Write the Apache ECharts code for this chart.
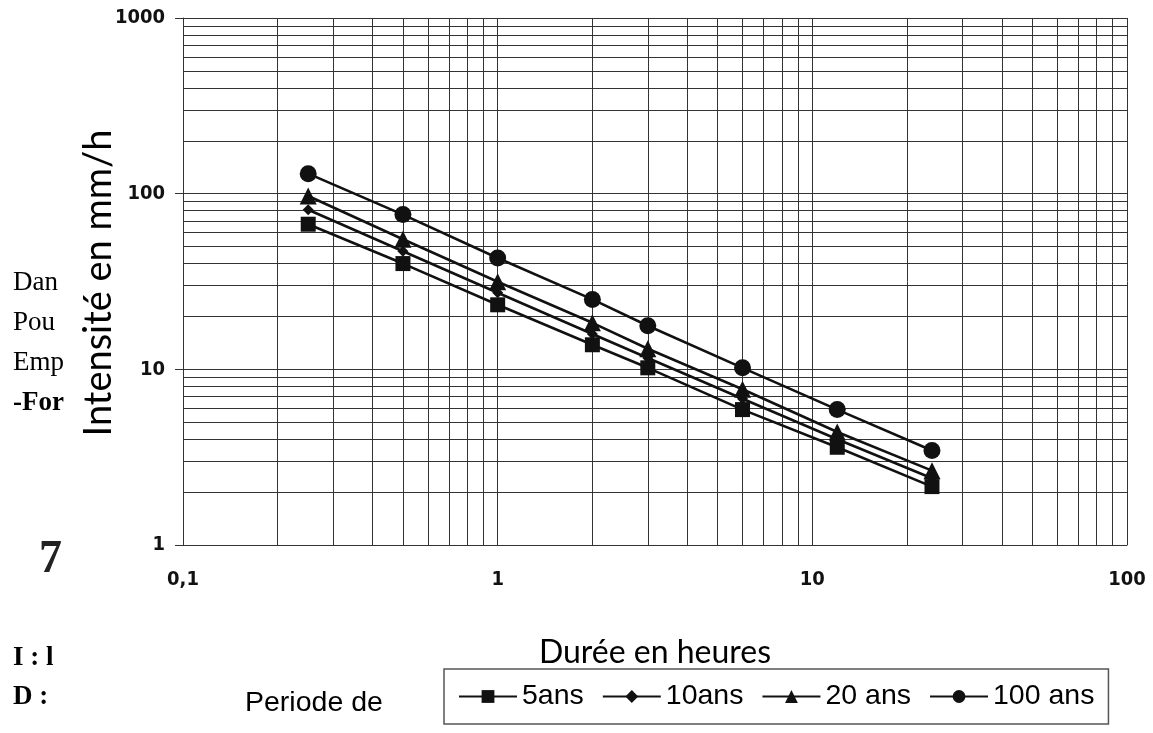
<!DOCTYPE html>
<html><head><meta charset="utf-8">
<script src="https://cdn.jsdelivr.net/npm/echarts@6/dist/echarts.min.js"></script>
<style>html,body{margin:0;padding:0;background:#fff}#c{width:1153px;height:733px}</style>
</head><body><div id="c"></div>
<script>
const durations = [0.25, 0.5, 1, 2, 3, 6, 12, 24];
const seriesNames = ['5ans', '10ans', '20 ans', '100 ans'];
const val5 = [67, 40, 23.3, 13.8, 10.2, 5.9, 3.6, 2.15];
const val10 = [81, 47, 27.3, 15.9, 11.6, 6.8, 4.0, 2.4];
const val20 = [97, 55, 31.5, 18.4, 13.1, 7.7, 4.4, 2.65];
const val100 = [130, 76, 43, 25, 17.7, 10.2, 5.9, 3.45];
const xGrid = [0.2,0.3,0.4,0.5,0.6,0.7,0.8,0.9,2,3,4,5,6,7,8,9,20,30,40,50,60,70,80,90];
const yGrid = [2,3,4,5,6,7,8,9,20,30,40,50,60,70,80,90,200,300,400,500,600,700,800,900];
const xTickLabels = {0.1:'0,1', 1:'1', 10:'10', 100:'100'};
const yTickLabels = {1:'1', 10:'10', 100:'100', 1000:'1000'};
const sideTexts = [['Dan',283,false],['Pou',323,false],['Emp',363,false],['-For',403,true],['I : l',658,true],['D :',697,true]];

const chart = echarts.init(document.getElementById('c'));
const symbols = ['rect','diamond','triangle','circle'];
const sizes = [15, 11, 17, 17];
const vals = [val5, val10, val20, val100];
const series = vals.map((v,i)=>({
  name: seriesNames[i], type:'line', data: durations.map((d,j)=>[d, v[j]]),
  symbol: symbols[i], symbolSize: sizes[i], showSymbol:true,
  lineStyle:{color:'#111', width:2.6}, itemStyle:{color:'#111'}, z: 5+i, silent:true
}));
series.push({
  type:'line', data:[], silent:true, z:1,
  markLine:{ silent:true, symbol:['none','none'], label:{show:false},
    lineStyle:{color:'#333', width:1, type:'solid'},
    data: xGrid.map(x=>({xAxis:x})).concat(yGrid.map(y=>({yAxis:y}))) }
});
const graphics = sideTexts.map(t=>({type:'text', x:13, y:t[1],
  style:{text:t[0], font:(t[2]?'bold ':'')+'27px "Liberation Serif"', fill:'#000', verticalAlign:'middle'}}));
graphics.push({type:'text', x:39, y:560, style:{text:'7', font:'bold 46px "Liberation Serif"', fill:'#222', verticalAlign:'middle'}});
graphics.push({type:'text', x:245, y:703, style:{text:'Periode de', font:'28.5px "Liberation Sans"', fill:'#000', verticalAlign:'middle'}});
graphics.push({type:'text', x:655, y:653, style:{text:'Durée en heures', font:'32px Lato', fill:'#000', align:'center', verticalAlign:'middle'}});
graphics.push({type:'text', x:99, y:283, rotation:Math.PI/2,
  style:{text:'Intensité en mm/h', font:'38px Lato', fill:'#000', align:'center', verticalAlign:'middle'}});

chart.setOption({
  animation:false,
  grid:{left:183, right:26, top:18, bottom:188},
  legend:{ left:444, top:669, data:seriesNames, borderColor:'#555', borderWidth:1.5,
    padding:[13,14], itemGap:18, itemWidth:58, itemHeight:16,
    textStyle:{fontSize:28.5, fontFamily:'"Liberation Sans"', color:'#000'} },
  xAxis:{ type:'log', min:0.1, max:100, logBase:10,
    axisLine:{show:true, lineStyle:{color:'#333', width:1}}, axisTick:{show:false},
    splitLine:{show:true, lineStyle:{color:'#333', width:1}},
    axisLabel:{margin:25, fontSize:20, fontWeight:'bold', fontFamily:'"DejaVu Sans Condensed"', color:'#111',
      formatter:v=>xTickLabels[v] ?? ''} },
  yAxis:{ type:'log', min:1, max:1000, logBase:10,
    axisLine:{show:true, lineStyle:{color:'#333', width:1}},
    axisTick:{show:true, length:8, lineStyle:{color:'#333'}},
    splitLine:{show:true, lineStyle:{color:'#333', width:1}},
    axisLabel:{margin:18, fontSize:20, fontWeight:'bold', fontFamily:'"DejaVu Sans Condensed"', color:'#111',
      formatter:v=>yTickLabels[v] ?? ''} },
  graphic: graphics,
  series: series
});
</script></body></html>
